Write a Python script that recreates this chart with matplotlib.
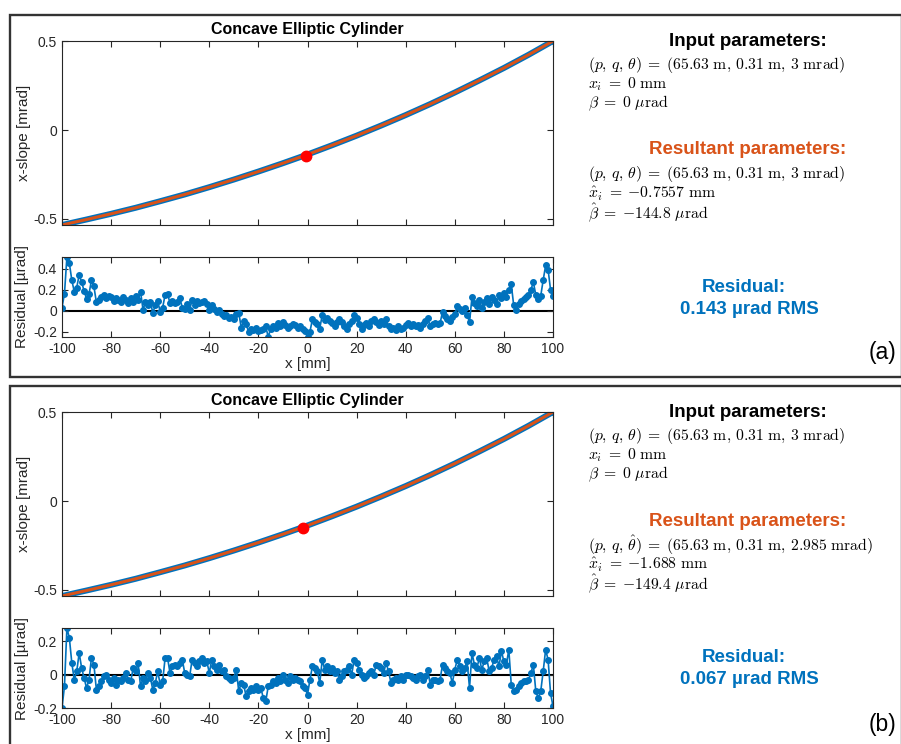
import numpy as np
import matplotlib.pyplot as plt
from matplotlib.patches import Rectangle

plt.rcParams['font.family'] = ['Liberation Sans', 'DejaVu Sans']
plt.rcParams['mathtext.fontset'] = 'cm'

BLUE = '#0072BD'
ORANGE = '#D95319'
AXC = '#262626'

# measured x-slope of the mirror [mrad], sampled every 10 mm
slope_x = [-100, -90, -80, -70, -60, -50, -40, -30, -20, -10, 0,
           10, 20, 30, 40, 50, 60, 70, 80, 90, 100]
slope_mrad = [-0.534, -0.503, -0.471, -0.437, -0.400, -0.362, -0.321, -0.278,
              -0.233, -0.186, -0.137, -0.085, -0.031, 0.026, 0.085, 0.147,
              0.212, 0.280, 0.350, 0.424, 0.502]

# fitted centre / angle offset for each case
centre_a = (-0.7557, -0.1448)
centre_b = (-1.688, -0.1494)

resid_x = np.arange(-100, 101)
resid_a = [
    0.03, 0.16, 0.51, 0.45, 0.29, 0.18, 0.22, 0.34, 0.27, 0.19,
    0.11, 0.16, 0.29, 0.23, 0.08, 0.10, 0.13, 0.15, 0.12, 0.14,
    0.13, 0.09, 0.12, 0.10, 0.08, 0.13, 0.10, 0.07, 0.12, 0.08,
    0.14, 0.10, 0.18, 0.01, 0.08, 0.05, 0.08, -0.02, 0.05, 0.09,
    -0.01, 0.03, 0.15, 0.16, 0.07, 0.09, 0.07, 0.08, 0.12, 0.03,
    0.02, 0.06, 0.01, 0.10, 0.05, 0.09, 0.07, 0.08, 0.09, 0.06,
    0.01, 0.05, 0.02, -0.01, 0.01, -0.03, -0.05, -0.04, -0.07, -0.06,
    -0.08, -0.03, -0.02, -0.16, -0.10, -0.13, -0.20, -0.17, -0.18, -0.16,
    -0.19, -0.18, -0.17, -0.15, -0.25, -0.17, -0.15, -0.16, -0.12, -0.15,
    -0.11, -0.14, -0.16, -0.15, -0.13, -0.14, -0.16, -0.15, -0.17, -0.19,
    -0.25, -0.20, -0.08, -0.11, -0.13, -0.17, -0.04, -0.09, -0.07, -0.10,
    -0.12, -0.15, -0.11, -0.08, -0.11, -0.15, -0.17, -0.13, -0.10, -0.04,
    -0.07, -0.13, -0.17, -0.14, -0.12, -0.15, -0.10, -0.08, -0.11, -0.14,
    -0.10, -0.13, -0.08, -0.15, -0.17, -0.16, -0.18, -0.15, -0.17, -0.16,
    -0.14, -0.12, -0.15, -0.13, -0.15, -0.14, -0.16, -0.13, -0.10, -0.07,
    -0.15, -0.13, -0.12, -0.13, -0.12, -0.01, -0.05, -0.08, -0.10, -0.06,
    -0.03, 0.04, 0.02, 0.00, 0.03, -0.04, -0.11, 0.13, 0.07, 0.04,
    0.10, 0.03, 0.08, 0.12, 0.06, 0.13, 0.10, 0.06, 0.15, 0.12,
    0.17, 0.13, 0.20, 0.25, 0.05, 0.01, 0.06, 0.09, 0.11, 0.13,
    0.15, 0.20, 0.27, 0.15, 0.11, 0.14, 0.29, 0.43, 0.39, 0.20,
    0.14]
resid_b = [
    -0.20, -0.07, 0.28, 0.22, 0.07, -0.03, 0.02, 0.13, 0.04, -0.02,
    -0.08, -0.03, 0.10, 0.06, -0.09, -0.07, -0.04, -0.01, 0.00, -0.03,
    -0.05, -0.02, -0.06, -0.03, -0.04, -0.02, 0.01, -0.03, -0.04, 0.04,
    0.02, 0.07, -0.07, -0.02, -0.04, 0.01, -0.02, -0.09, -0.05, 0.02,
    -0.06, -0.04, 0.10, 0.10, 0.01, 0.05, 0.06, 0.05, 0.07, 0.09,
    0.01, 0.00, -0.01, 0.09, 0.07, 0.05, 0.08, 0.10, 0.07, 0.08,
    0.01, 0.09, 0.05, 0.03, 0.06, 0.02, 0.03, -0.01, -0.02, -0.03,
    -0.02, 0.03, -0.10, -0.05, -0.06, -0.13, -0.10, -0.08, -0.09, -0.07,
    -0.09, -0.08, -0.14, -0.16, -0.07, -0.06, -0.04, -0.05, -0.02, -0.04,
    0.00, -0.03, -0.05, -0.01, -0.03, -0.02, -0.03, -0.04, -0.07, -0.08,
    -0.12, -0.03, 0.05, 0.04, 0.02, -0.05, 0.09, 0.03, 0.05, 0.02,
    0.04, 0.01, 0.02, -0.03, -0.01, 0.02, 0.03, 0.05, 0.00, 0.09,
    0.07, 0.03, 0.00, -0.02, -0.01, 0.01, 0.02, 0.00, 0.06, 0.05,
    0.04, 0.01, 0.07, 0.02, -0.05, -0.03, -0.02, -0.03, -0.01, -0.03,
    0.00, 0.00, -0.01, -0.02, -0.03, -0.01, 0.00, -0.03, -0.01, 0.03,
    -0.06, -0.03, -0.03, -0.04, -0.03, 0.06, 0.04, 0.02, 0.01, -0.05,
    0.03, 0.09, 0.05, 0.02, 0.04, 0.08, -0.08, 0.13, 0.06, 0.04,
    0.10, 0.03, 0.08, 0.10, 0.02, 0.04, 0.09, 0.11, 0.05, 0.14,
    0.08, 0.06, 0.15, -0.06, -0.10, -0.09, -0.07, -0.05, -0.04, -0.04,
    -0.03, 0.01, 0.06, -0.10, -0.14, -0.10, 0.02, 0.15, 0.09, -0.11,
    -0.19]

input_lines = [r'$(p,\, q,\, \theta)\;=\;(65.63\ \mathrm{m},\, 0.31\ \mathrm{m},\, 3\ \mathrm{mrad})$',
               r'$x_i\;=\;0\ \mathrm{mm}$',
               r'$\beta\;=\;0\ \mu\mathrm{rad}$']
result_lines_a = [r'$(p,\, q,\, \theta)\;=\;(65.63\ \mathrm{m},\, 0.31\ \mathrm{m},\, 3\ \mathrm{mrad})$',
                  r'$\hat{x}_i\;=\;{-}0.7557\ \mathrm{mm}$',
                  r'$\hat{\beta}\;=\;{-}144.8\ \mu\mathrm{rad}$']
result_lines_b = [r'$(p,\, q,\, \hat{\theta})\;=\;(65.63\ \mathrm{m},\, 0.31\ \mathrm{m},\, 2.985\ \mathrm{mrad})$',
                  r'$\hat{x}_i\;=\;{-}1.688\ \mathrm{mm}$',
                  r'$\hat{\beta}\;=\;{-}149.4\ \mu\mathrm{rad}$']
rms_a = '0.143 µrad RMS'
rms_b = '0.067 µrad RMS'

W, H = 901, 744
fig = plt.figure(figsize=(W / 100, H / 100), dpi=100)


def box(left, top, right, bottom):
    return [left / W, 1 - bottom / H, (right - left) / W, (bottom - top) / H]


def put(x, y, s, **kw):
    fig.text(x / W, 1 - y / H, s, **kw)


def style(ax):
    for sp in ax.spines.values():
        sp.set_color(AXC)
        sp.set_linewidth(0.8)
    ax.tick_params(direction='in', top=True, right=True, length=4,
                   width=0.8, color=AXC, labelcolor=AXC, labelsize=10)
    ax.set_xlim(-100, 100)
    ax.set_xticks(range(-100, 101, 20))


def panel(dy, resid, centre, result_lines, rms, tag):
    # outer frame around the whole panel
    fig.add_artist(Rectangle((10 / W, 1 - (377 + dy) / H), 0.99, 362 / H,
                             transform=fig.transFigure, fill=False,
                             lw=1.7, ec='#333333', clip_on=False))

    ax = fig.add_axes(box(62, 41 + dy, 553, 225 + dy))
    style(ax)
    ax.plot(slope_x, slope_mrad, '-', color=BLUE, lw=4.3, marker='o', ms=4,
            markevery=[0, len(slope_x) - 1], solid_capstyle='round')
    ax.plot(slope_x, slope_mrad, '-', color=ORANGE, lw=2.2)
    ax.plot(centre[0], centre[1], 'o', color='red', ms=7.5, zorder=5)
    ax.set_ylim(-0.534, 0.502)
    ax.set_yticks([-0.5, 0, 0.5])
    ax.set_yticklabels(['-0.5', '0', '0.5'])
    ax.set_xticklabels([])
    ax.set_ylabel('x-slope [mrad]', fontsize=11, color=AXC)
    ax.yaxis.set_label_coords(-0.064, 0.5)
    ax.set_title('Concave Elliptic Cylinder', fontsize=11.5, fontweight='bold',
                 pad=5)

    ar = fig.add_axes(box(62, 257 + dy, 553, 337 + dy))
    style(ar)
    ar.axhline(0, color='black', lw=1.5, zorder=1)
    ar.plot(resid_x, resid, '-', color=BLUE, lw=1.2, marker='o', ms=4,
            zorder=2)
    ar.set_ylim(min(resid), max(resid))
    if max(resid) > 0.3:
        ar.set_yticks([-0.2, 0, 0.2, 0.4])
        ar.set_yticklabels(['-0.2', '0', '0.2', '0.4'])
    else:
        ar.set_yticks([-0.2, 0, 0.2])
        ar.set_yticklabels(['-0.2', '0', '0.2'])
    ar.set_xticklabels([str(v) for v in range(-100, 101, 20)])
    ar.set_ylabel('Residual [µrad]', fontsize=11, color=AXC)
    ar.yaxis.set_label_coords(-0.068, 0.5)
    ar.set_xlabel('x [mm]', fontsize=11, color=AXC, labelpad=1)

    put(748, 42 + dy, 'Input parameters:', fontsize=13.5, fontweight='bold',
        ha='center', va='center')
    for i, s in enumerate(input_lines):
        put(588, 65 + dy + 19 * i, s, fontsize=11.3, ha='left', va='center')
    put(748, 150 + dy, 'Resultant parameters:', fontsize=13.5,
        fontweight='bold', color=ORANGE, ha='center', va='center')
    for i, s in enumerate(result_lines):
        put(588, 174 + dy + 19.5 * i, s, fontsize=11.3, ha='left', va='center')
    put(744, 287 + dy, 'Residual:', fontsize=13.5, fontweight='bold',
        color=BLUE, ha='center', va='center')
    put(749, 309 + dy, rms, fontsize=13.5, fontweight='bold',
        color=BLUE, ha='center', va='center')
    put(883, 353 + dy, tag, fontsize=16.5, ha='center', va='center')


panel(0, resid_a, centre_a, result_lines_a, rms_a, '(a)')
panel(371, resid_b, centre_b, result_lines_b, rms_b, '(b)')

fig.savefig('out.png', dpi=100, facecolor='white')
